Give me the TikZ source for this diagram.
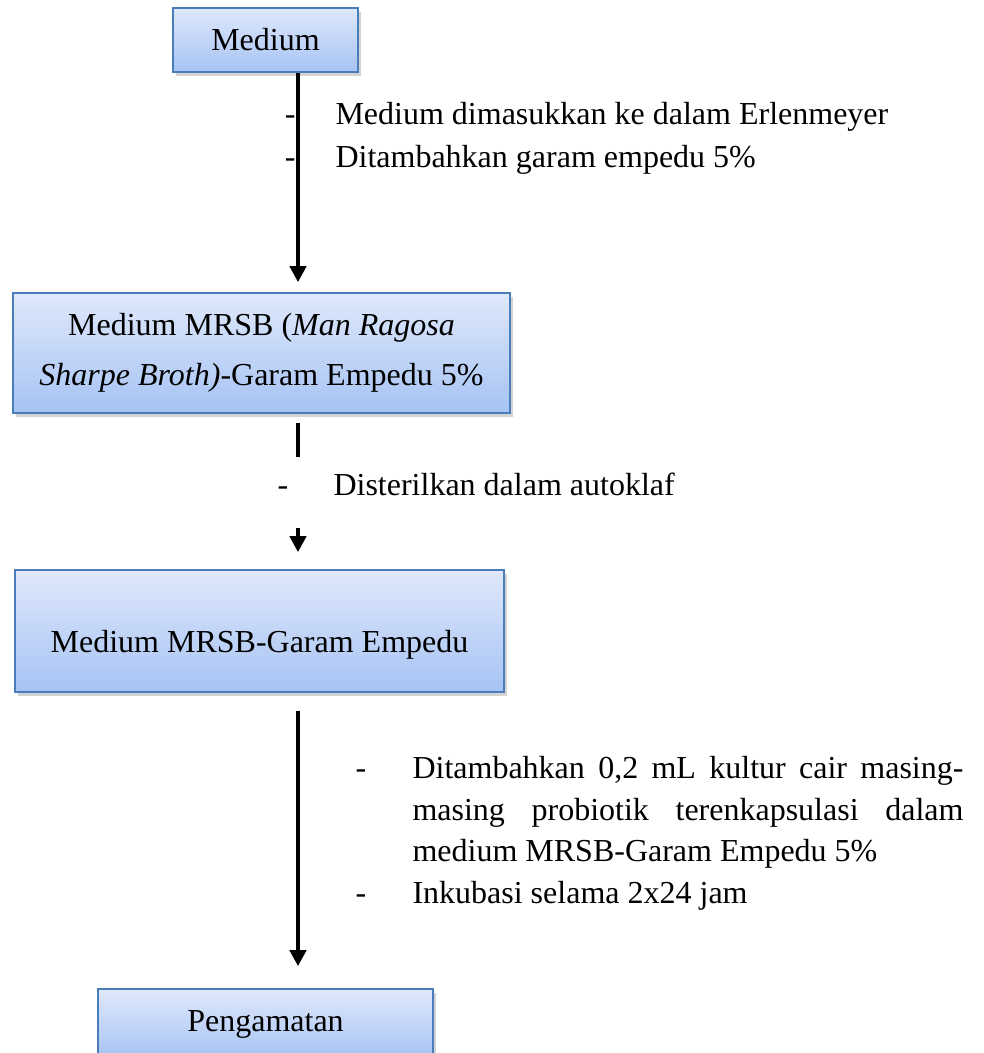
\documentclass[tikz,border=0pt]{standalone}
\usepackage{fontspec}
\setmainfont{Liberation Serif}
\usetikzlibrary{arrows.meta, positioning, calc, shadows}
\definecolor{boxTop}{HTML}{DFE8FB}
\definecolor{boxBottom}{HTML}{A6C3F4}
\definecolor{boxEdge}{HTML}{4A7EBB}

\begin{document}
\begin{tikzpicture}[x=0.375pt, y=-0.375pt,
  font=\fontsize{12}{15.6}\selectfont,
  stage/.style={draw=boxEdge, line width=0.6pt, top color=boxTop, bottom color=boxBottom,
                align=center, inner sep=0pt,
                drop shadow={shadow xshift=1.2pt, shadow yshift=-1.5pt, opacity=0.35}},
  txt/.style={anchor=base west, inner sep=0pt},
  arr/.style={-{Triangle[length=6pt, width=6pt]}, line width=1.5pt},
  seg/.style={line width=1.5pt}
]
\useasboundingbox (0,0) rectangle (984,1053);

% boxes
\node[stage, minimum width=69.4pt, minimum height=24pt] (medium) at (265.5,40) {Medium};
\node[stage, minimum width=186.4pt, minimum height=45pt] (mrsb) at (261.5,353)
  {Medium MRSB (\textit{Man Ragosa}\\[3pt]\textit{Sharpe Broth)}-Garam Empedu 5\%};
\node[stage, minimum width=183.4pt, minimum height=45.75pt, text height=19pt, text depth=2.6pt] (mrsbGaram) at (259.5,631)
  {Medium MRSB-Garam Empedu};
\node[stage, minimum width=125.6pt, minimum height=26.25pt] (pengamatan) at (265.5,1024) {Pengamatan};

\coordinate (spine) at (298,0);
\coordinate (gapTop) at (298,457);
\coordinate (gapBot) at (298,528);

% arrows
\draw[arr] (medium.south -| spine) -- ($(mrsb.north -| spine)+(0,-10)$);
\draw[seg] ($(mrsb.south -| spine)+(0,9)$) -- (gapTop);
\draw[arr] (gapBot) -- ($(mrsbGaram.north -| spine)+(0,-17)$);
\draw[arr] ($(mrsbGaram.south -| spine)+(0,18)$) -- ($(pengamatan.north -| spine)+(0,-22)$);

% steps
\node[txt, anchor=base east] (dashA) at (296,124) {-};
\node[txt, anchor=base east] (dashB) at (296,167) {-};
\node[txt] (stepA) at (335,124) {Medium dimasukkan ke dalam Erlenmeyer};
\node[txt] (stepB) at (335,167) {Ditambahkan garam empedu 5\%};

\node[txt] (dashC) at (277,495) {-};
\node[txt] (stepC) at (333,495) {Disterilkan dalam autoklaf};

\node[txt] (dashD) at (355,778) {-};
\node[anchor=north west, inner sep=0pt, text width=206.6pt, align=justify] (stepD) at (412,756)
  {Ditambahkan 0,2 mL kultur cair masing-\linebreak masing probiotik terenkapsulasi dalam\linebreak medium MRSB-Garam Empedu 5\%};
\node[txt] (dashE) at (355,903) {-};
\node[txt] (stepE) at (412,903) {Inkubasi selama 2x24 jam};
\end{tikzpicture}
\end{document}
